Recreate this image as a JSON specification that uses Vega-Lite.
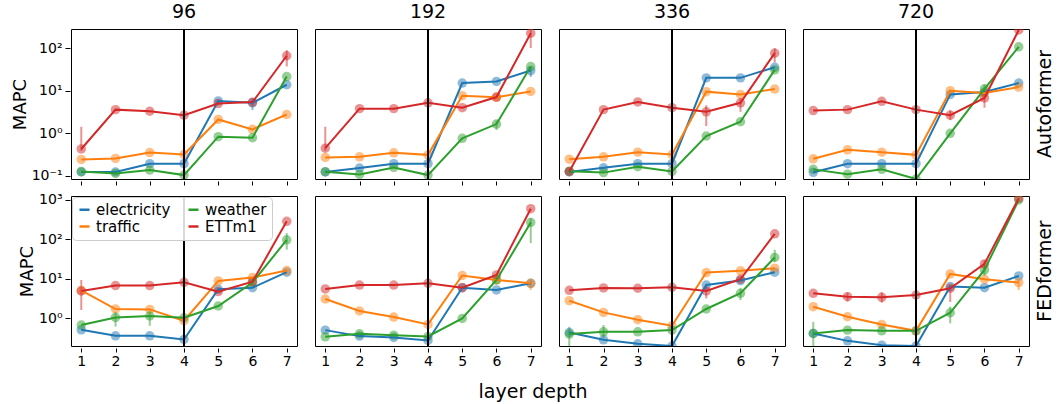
{
  "$schema": "https://vega.github.io/schema/vega-lite/v6.json",
  "padding": {"left": 11, "top": 3, "right": 2, "bottom": 4},
  "config": {
    "font": "DejaVu Sans",
    "view": {"stroke": "black", "strokeWidth": 1},
    "axis": {"grid": false, "domain": false, "tickColor": "black", "labelColor": "black", "labelFontSize": 14, "titleFontSize": 18, "titleFontWeight": "normal", "titleColor": "black", "tickSize": 5, "labelPadding": 3, "titlePadding": 2},
    "axisX": {"tickSize": 4, "labelPadding": 2},
    "header": {"labelFontSize": 19, "labelColor": "black"},
    "title": {"fontSize": 19, "fontWeight": "normal", "color": "black"}
  },
  "title": {"text": "layer depth", "orient": "bottom", "anchor": "middle", "offset": 15},
  "data": {"values": [
    {"model":"Autoformer","horizon":"96","dataset":"electricity","depth":1,"mapc":0.124},
    {"model":"Autoformer","horizon":"96","dataset":"electricity","depth":2,"mapc":0.124},
    {"model":"Autoformer","horizon":"96","dataset":"electricity","depth":3,"mapc":0.194},
    {"model":"Autoformer","horizon":"96","dataset":"electricity","depth":4,"mapc":0.194},
    {"model":"Autoformer","horizon":"96","dataset":"electricity","depth":5,"mapc":5.75},
    {"model":"Autoformer","horizon":"96","dataset":"electricity","depth":6,"mapc":5.2,"lo":3.5,"hi":6.5},
    {"model":"Autoformer","horizon":"96","dataset":"electricity","depth":7,"mapc":13.8},
    {"model":"Autoformer","horizon":"96","dataset":"traffic","depth":1,"mapc":0.244},
    {"model":"Autoformer","horizon":"96","dataset":"traffic","depth":2,"mapc":0.258},
    {"model":"Autoformer","horizon":"96","dataset":"traffic","depth":3,"mapc":0.355},
    {"model":"Autoformer","horizon":"96","dataset":"traffic","depth":4,"mapc":0.319},
    {"model":"Autoformer","horizon":"96","dataset":"traffic","depth":5,"mapc":2.12},
    {"model":"Autoformer","horizon":"96","dataset":"traffic","depth":6,"mapc":1.24},
    {"model":"Autoformer","horizon":"96","dataset":"traffic","depth":7,"mapc":2.77},
    {"model":"Autoformer","horizon":"96","dataset":"weather","depth":1,"mapc":0.128},
    {"model":"Autoformer","horizon":"96","dataset":"weather","depth":2,"mapc":0.115},
    {"model":"Autoformer","horizon":"96","dataset":"weather","depth":3,"mapc":0.138},
    {"model":"Autoformer","horizon":"96","dataset":"weather","depth":4,"mapc":0.105},
    {"model":"Autoformer","horizon":"96","dataset":"weather","depth":5,"mapc":0.835},
    {"model":"Autoformer","horizon":"96","dataset":"weather","depth":6,"mapc":0.79},
    {"model":"Autoformer","horizon":"96","dataset":"weather","depth":7,"mapc":21.5},
    {"model":"Autoformer","horizon":"96","dataset":"ETTm1","depth":1,"mapc":0.43,"lo":0.39,"hi":1.43},
    {"model":"Autoformer","horizon":"96","dataset":"ETTm1","depth":2,"mapc":3.6},
    {"model":"Autoformer","horizon":"96","dataset":"ETTm1","depth":3,"mapc":3.3},
    {"model":"Autoformer","horizon":"96","dataset":"ETTm1","depth":4,"mapc":2.67},
    {"model":"Autoformer","horizon":"96","dataset":"ETTm1","depth":5,"mapc":5.0},
    {"model":"Autoformer","horizon":"96","dataset":"ETTm1","depth":6,"mapc":5.4},
    {"model":"Autoformer","horizon":"96","dataset":"ETTm1","depth":7,"mapc":66,"lo":37,"hi":90},

    {"model":"Autoformer","horizon":"192","dataset":"electricity","depth":1,"mapc":0.124},
    {"model":"Autoformer","horizon":"192","dataset":"electricity","depth":2,"mapc":0.153},
    {"model":"Autoformer","horizon":"192","dataset":"electricity","depth":3,"mapc":0.194},
    {"model":"Autoformer","horizon":"192","dataset":"electricity","depth":4,"mapc":0.194},
    {"model":"Autoformer","horizon":"192","dataset":"electricity","depth":5,"mapc":15.1},
    {"model":"Autoformer","horizon":"192","dataset":"electricity","depth":6,"mapc":16.5},
    {"model":"Autoformer","horizon":"192","dataset":"electricity","depth":7,"mapc":29.7,"lo":21,"hi":36},
    {"model":"Autoformer","horizon":"192","dataset":"traffic","depth":1,"mapc":0.272},
    {"model":"Autoformer","horizon":"192","dataset":"traffic","depth":2,"mapc":0.282},
    {"model":"Autoformer","horizon":"192","dataset":"traffic","depth":3,"mapc":0.349},
    {"model":"Autoformer","horizon":"192","dataset":"traffic","depth":4,"mapc":0.313},
    {"model":"Autoformer","horizon":"192","dataset":"traffic","depth":5,"mapc":7.65},
    {"model":"Autoformer","horizon":"192","dataset":"traffic","depth":6,"mapc":7.0},
    {"model":"Autoformer","horizon":"192","dataset":"traffic","depth":7,"mapc":9.6},
    {"model":"Autoformer","horizon":"192","dataset":"weather","depth":1,"mapc":0.126},
    {"model":"Autoformer","horizon":"192","dataset":"weather","depth":2,"mapc":0.109},
    {"model":"Autoformer","horizon":"192","dataset":"weather","depth":3,"mapc":0.159},
    {"model":"Autoformer","horizon":"192","dataset":"weather","depth":4,"mapc":0.105},
    {"model":"Autoformer","horizon":"192","dataset":"weather","depth":5,"mapc":0.766},
    {"model":"Autoformer","horizon":"192","dataset":"weather","depth":6,"mapc":1.65,"lo":1.2,"hi":2.0},
    {"model":"Autoformer","horizon":"192","dataset":"weather","depth":7,"mapc":36.8},
    {"model":"Autoformer","horizon":"192","dataset":"ETTm1","depth":1,"mapc":0.45,"lo":0.39,"hi":1.43},
    {"model":"Autoformer","horizon":"192","dataset":"ETTm1","depth":2,"mapc":3.8},
    {"model":"Autoformer","horizon":"192","dataset":"ETTm1","depth":3,"mapc":3.8},
    {"model":"Autoformer","horizon":"192","dataset":"ETTm1","depth":4,"mapc":5.2},
    {"model":"Autoformer","horizon":"192","dataset":"ETTm1","depth":5,"mapc":4.0},
    {"model":"Autoformer","horizon":"192","dataset":"ETTm1","depth":6,"mapc":7.1},
    {"model":"Autoformer","horizon":"192","dataset":"ETTm1","depth":7,"mapc":223,"lo":100,"hi":300},

    {"model":"Autoformer","horizon":"336","dataset":"electricity","depth":1,"mapc":0.124},
    {"model":"Autoformer","horizon":"336","dataset":"electricity","depth":2,"mapc":0.156},
    {"model":"Autoformer","horizon":"336","dataset":"electricity","depth":3,"mapc":0.194},
    {"model":"Autoformer","horizon":"336","dataset":"electricity","depth":4,"mapc":0.194},
    {"model":"Autoformer","horizon":"336","dataset":"electricity","depth":5,"mapc":20},
    {"model":"Autoformer","horizon":"336","dataset":"electricity","depth":6,"mapc":20},
    {"model":"Autoformer","horizon":"336","dataset":"electricity","depth":7,"mapc":35.5},
    {"model":"Autoformer","horizon":"336","dataset":"traffic","depth":1,"mapc":0.248},
    {"model":"Autoformer","horizon":"336","dataset":"traffic","depth":2,"mapc":0.282},
    {"model":"Autoformer","horizon":"336","dataset":"traffic","depth":3,"mapc":0.361},
    {"model":"Autoformer","horizon":"336","dataset":"traffic","depth":4,"mapc":0.319},
    {"model":"Autoformer","horizon":"336","dataset":"traffic","depth":5,"mapc":9.5},
    {"model":"Autoformer","horizon":"336","dataset":"traffic","depth":6,"mapc":8.2},
    {"model":"Autoformer","horizon":"336","dataset":"traffic","depth":7,"mapc":10.9},
    {"model":"Autoformer","horizon":"336","dataset":"weather","depth":1,"mapc":0.13},
    {"model":"Autoformer","horizon":"336","dataset":"weather","depth":2,"mapc":0.12},
    {"model":"Autoformer","horizon":"336","dataset":"weather","depth":3,"mapc":0.165},
    {"model":"Autoformer","horizon":"336","dataset":"weather","depth":4,"mapc":0.128},
    {"model":"Autoformer","horizon":"336","dataset":"weather","depth":5,"mapc":0.867},
    {"model":"Autoformer","horizon":"336","dataset":"weather","depth":6,"mapc":1.87},
    {"model":"Autoformer","horizon":"336","dataset":"weather","depth":7,"mapc":30.8},
    {"model":"Autoformer","horizon":"336","dataset":"ETTm1","depth":1,"mapc":0.128},
    {"model":"Autoformer","horizon":"336","dataset":"ETTm1","depth":2,"mapc":3.6},
    {"model":"Autoformer","horizon":"336","dataset":"ETTm1","depth":3,"mapc":5.45},
    {"model":"Autoformer","horizon":"336","dataset":"ETTm1","depth":4,"mapc":4.0},
    {"model":"Autoformer","horizon":"336","dataset":"ETTm1","depth":5,"mapc":3.2,"lo":1.48,"hi":4.56},
    {"model":"Autoformer","horizon":"336","dataset":"ETTm1","depth":6,"mapc":5.2,"lo":3.2,"hi":6.5},
    {"model":"Autoformer","horizon":"336","dataset":"ETTm1","depth":7,"mapc":76,"lo":46,"hi":100},

    {"model":"Autoformer","horizon":"720","dataset":"electricity","depth":1,"mapc":0.122},
    {"model":"Autoformer","horizon":"720","dataset":"electricity","depth":2,"mapc":0.194},
    {"model":"Autoformer","horizon":"720","dataset":"electricity","depth":3,"mapc":0.194},
    {"model":"Autoformer","horizon":"720","dataset":"electricity","depth":4,"mapc":0.194},
    {"model":"Autoformer","horizon":"720","dataset":"electricity","depth":5,"mapc":8.2},
    {"model":"Autoformer","horizon":"720","dataset":"electricity","depth":6,"mapc":9.3},
    {"model":"Autoformer","horizon":"720","dataset":"electricity","depth":7,"mapc":15.1},
    {"model":"Autoformer","horizon":"720","dataset":"traffic","depth":1,"mapc":0.253},
    {"model":"Autoformer","horizon":"720","dataset":"traffic","depth":2,"mapc":0.41},
    {"model":"Autoformer","horizon":"720","dataset":"traffic","depth":3,"mapc":0.361},
    {"model":"Autoformer","horizon":"720","dataset":"traffic","depth":4,"mapc":0.313},
    {"model":"Autoformer","horizon":"720","dataset":"traffic","depth":5,"mapc":10},
    {"model":"Autoformer","horizon":"720","dataset":"traffic","depth":6,"mapc":8.8},
    {"model":"Autoformer","horizon":"720","dataset":"traffic","depth":7,"mapc":12.2},
    {"model":"Autoformer","horizon":"720","dataset":"weather","depth":1,"mapc":0.143},
    {"model":"Autoformer","horizon":"720","dataset":"weather","depth":2,"mapc":0.11},
    {"model":"Autoformer","horizon":"720","dataset":"weather","depth":3,"mapc":0.143},
    {"model":"Autoformer","horizon":"720","dataset":"weather","depth":4,"mapc":0.085},
    {"model":"Autoformer","horizon":"720","dataset":"weather","depth":5,"mapc":1.0},
    {"model":"Autoformer","horizon":"720","dataset":"weather","depth":6,"mapc":11.1,"lo":7.8,"hi":14},
    {"model":"Autoformer","horizon":"720","dataset":"weather","depth":7,"mapc":107},
    {"model":"Autoformer","horizon":"720","dataset":"ETTm1","depth":1,"mapc":3.43},
    {"model":"Autoformer","horizon":"720","dataset":"ETTm1","depth":2,"mapc":3.6},
    {"model":"Autoformer","horizon":"720","dataset":"ETTm1","depth":3,"mapc":5.65},
    {"model":"Autoformer","horizon":"720","dataset":"ETTm1","depth":4,"mapc":3.6},
    {"model":"Autoformer","horizon":"720","dataset":"ETTm1","depth":5,"mapc":2.67,"lo":2.04,"hi":3.5},
    {"model":"Autoformer","horizon":"720","dataset":"ETTm1","depth":6,"mapc":6.75,"lo":4.0,"hi":8.5},
    {"model":"Autoformer","horizon":"720","dataset":"ETTm1","depth":7,"mapc":265},

    {"model":"FEDformer","horizon":"96","dataset":"electricity","depth":1,"mapc":0.515},
    {"model":"FEDformer","horizon":"96","dataset":"electricity","depth":2,"mapc":0.363},
    {"model":"FEDformer","horizon":"96","dataset":"electricity","depth":3,"mapc":0.363},
    {"model":"FEDformer","horizon":"96","dataset":"electricity","depth":4,"mapc":0.292},
    {"model":"FEDformer","horizon":"96","dataset":"electricity","depth":5,"mapc":5.46},
    {"model":"FEDformer","horizon":"96","dataset":"electricity","depth":6,"mapc":6.0},
    {"model":"FEDformer","horizon":"96","dataset":"electricity","depth":7,"mapc":14.8},
    {"model":"FEDformer","horizon":"96","dataset":"traffic","depth":1,"mapc":5.1},
    {"model":"FEDformer","horizon":"96","dataset":"traffic","depth":2,"mapc":1.73},
    {"model":"FEDformer","horizon":"96","dataset":"traffic","depth":3,"mapc":1.69},
    {"model":"FEDformer","horizon":"96","dataset":"traffic","depth":4,"mapc":0.873},
    {"model":"FEDformer","horizon":"96","dataset":"traffic","depth":5,"mapc":8.9},
    {"model":"FEDformer","horizon":"96","dataset":"traffic","depth":6,"mapc":10.8},
    {"model":"FEDformer","horizon":"96","dataset":"traffic","depth":7,"mapc":16.3},
    {"model":"FEDformer","horizon":"96","dataset":"weather","depth":1,"mapc":0.678},
    {"model":"FEDformer","horizon":"96","dataset":"weather","depth":2,"mapc":1.06,"lo":0.62,"hi":1.48},
    {"model":"FEDformer","horizon":"96","dataset":"weather","depth":3,"mapc":1.15,"lo":0.65,"hi":1.5},
    {"model":"FEDformer","horizon":"96","dataset":"weather","depth":4,"mapc":1.04,"lo":0.7,"hi":1.4},
    {"model":"FEDformer","horizon":"96","dataset":"weather","depth":5,"mapc":2.06},
    {"model":"FEDformer","horizon":"96","dataset":"weather","depth":6,"mapc":8.07},
    {"model":"FEDformer","horizon":"96","dataset":"weather","depth":7,"mapc":98,"lo":55,"hi":145},
    {"model":"FEDformer","horizon":"96","dataset":"ETTm1","depth":1,"mapc":4.95,"lo":1.63,"hi":9.4},
    {"model":"FEDformer","horizon":"96","dataset":"ETTm1","depth":2,"mapc":6.8},
    {"model":"FEDformer","horizon":"96","dataset":"ETTm1","depth":3,"mapc":6.8},
    {"model":"FEDformer","horizon":"96","dataset":"ETTm1","depth":4,"mapc":8.2},
    {"model":"FEDformer","horizon":"96","dataset":"ETTm1","depth":5,"mapc":4.77},
    {"model":"FEDformer","horizon":"96","dataset":"ETTm1","depth":6,"mapc":8.55},
    {"model":"FEDformer","horizon":"96","dataset":"ETTm1","depth":7,"mapc":287},

    {"model":"FEDformer","horizon":"192","dataset":"electricity","depth":1,"mapc":0.505},
    {"model":"FEDformer","horizon":"192","dataset":"electricity","depth":2,"mapc":0.356},
    {"model":"FEDformer","horizon":"192","dataset":"electricity","depth":3,"mapc":0.329},
    {"model":"FEDformer","horizon":"192","dataset":"electricity","depth":4,"mapc":0.276},
    {"model":"FEDformer","horizon":"192","dataset":"electricity","depth":5,"mapc":6.0},
    {"model":"FEDformer","horizon":"192","dataset":"electricity","depth":6,"mapc":5.25},
    {"model":"FEDformer","horizon":"192","dataset":"electricity","depth":7,"mapc":7.76},
    {"model":"FEDformer","horizon":"192","dataset":"traffic","depth":1,"mapc":3.1},
    {"model":"FEDformer","horizon":"192","dataset":"traffic","depth":2,"mapc":1.54},
    {"model":"FEDformer","horizon":"192","dataset":"traffic","depth":3,"mapc":1.08},
    {"model":"FEDformer","horizon":"192","dataset":"traffic","depth":4,"mapc":0.703},
    {"model":"FEDformer","horizon":"192","dataset":"traffic","depth":5,"mapc":12.2},
    {"model":"FEDformer","horizon":"192","dataset":"traffic","depth":6,"mapc":9.4},
    {"model":"FEDformer","horizon":"192","dataset":"traffic","depth":7,"mapc":7.76,"lo":5.2,"hi":9.4},
    {"model":"FEDformer","horizon":"192","dataset":"weather","depth":1,"mapc":0.342},
    {"model":"FEDformer","horizon":"192","dataset":"weather","depth":2,"mapc":0.407},
    {"model":"FEDformer","horizon":"192","dataset":"weather","depth":3,"mapc":0.377},
    {"model":"FEDformer","horizon":"192","dataset":"weather","depth":4,"mapc":0.348},
    {"model":"FEDformer","horizon":"192","dataset":"weather","depth":5,"mapc":1.0},
    {"model":"FEDformer","horizon":"192","dataset":"weather","depth":6,"mapc":9.4},
    {"model":"FEDformer","horizon":"192","dataset":"weather","depth":7,"mapc":270,"lo":81,"hi":347},
    {"model":"FEDformer","horizon":"192","dataset":"ETTm1","depth":1,"mapc":5.57},
    {"model":"FEDformer","horizon":"192","dataset":"ETTm1","depth":2,"mapc":7.0},
    {"model":"FEDformer","horizon":"192","dataset":"ETTm1","depth":3,"mapc":7.0},
    {"model":"FEDformer","horizon":"192","dataset":"ETTm1","depth":4,"mapc":7.76},
    {"model":"FEDformer","horizon":"192","dataset":"ETTm1","depth":5,"mapc":6.0},
    {"model":"FEDformer","horizon":"192","dataset":"ETTm1","depth":6,"mapc":12.6},
    {"model":"FEDformer","horizon":"192","dataset":"ETTm1","depth":7,"mapc":600},

    {"model":"FEDformer","horizon":"336","dataset":"electricity","depth":1,"mapc":0.44},
    {"model":"FEDformer","horizon":"336","dataset":"electricity","depth":2,"mapc":0.287},
    {"model":"FEDformer","horizon":"336","dataset":"electricity","depth":3,"mapc":0.227},
    {"model":"FEDformer","horizon":"336","dataset":"electricity","depth":4,"mapc":0.2},
    {"model":"FEDformer","horizon":"336","dataset":"electricity","depth":5,"mapc":7.0},
    {"model":"FEDformer","horizon":"336","dataset":"electricity","depth":6,"mapc":9.1},
    {"model":"FEDformer","horizon":"336","dataset":"electricity","depth":7,"mapc":14.8},
    {"model":"FEDformer","horizon":"336","dataset":"traffic","depth":1,"mapc":2.81},
    {"model":"FEDformer","horizon":"336","dataset":"traffic","depth":2,"mapc":1.42},
    {"model":"FEDformer","horizon":"336","dataset":"traffic","depth":3,"mapc":0.925},
    {"model":"FEDformer","horizon":"336","dataset":"traffic","depth":4,"mapc":0.651},
    {"model":"FEDformer","horizon":"336","dataset":"traffic","depth":5,"mapc":14.5},
    {"model":"FEDformer","horizon":"336","dataset":"traffic","depth":6,"mapc":16},
    {"model":"FEDformer","horizon":"336","dataset":"traffic","depth":7,"mapc":18.7},
    {"model":"FEDformer","horizon":"336","dataset":"weather","depth":1,"mapc":0.4,"lo":0.2,"hi":0.61},
    {"model":"FEDformer","horizon":"336","dataset":"weather","depth":2,"mapc":0.458,"lo":0.31,"hi":0.68},
    {"model":"FEDformer","horizon":"336","dataset":"weather","depth":3,"mapc":0.458},
    {"model":"FEDformer","horizon":"336","dataset":"weather","depth":4,"mapc":0.505},
    {"model":"FEDformer","horizon":"336","dataset":"weather","depth":5,"mapc":1.73},
    {"model":"FEDformer","horizon":"336","dataset":"weather","depth":6,"mapc":4.33,"lo":2.9,"hi":5.8},
    {"model":"FEDformer","horizon":"336","dataset":"weather","depth":7,"mapc":34.9,"lo":27.5,"hi":55},
    {"model":"FEDformer","horizon":"336","dataset":"ETTm1","depth":1,"mapc":5.15},
    {"model":"FEDformer","horizon":"336","dataset":"ETTm1","depth":2,"mapc":5.9},
    {"model":"FEDformer","horizon":"336","dataset":"ETTm1","depth":3,"mapc":5.8},
    {"model":"FEDformer","horizon":"336","dataset":"ETTm1","depth":4,"mapc":6.14},
    {"model":"FEDformer","horizon":"336","dataset":"ETTm1","depth":5,"mapc":4.95,"lo":3.2,"hi":6.7},
    {"model":"FEDformer","horizon":"336","dataset":"ETTm1","depth":6,"mapc":9.8},
    {"model":"FEDformer","horizon":"336","dataset":"ETTm1","depth":7,"mapc":139},

    {"model":"FEDformer","horizon":"720","dataset":"electricity","depth":1,"mapc":0.416},
    {"model":"FEDformer","horizon":"720","dataset":"electricity","depth":2,"mapc":0.27},
    {"model":"FEDformer","horizon":"720","dataset":"electricity","depth":3,"mapc":0.21},
    {"model":"FEDformer","horizon":"720","dataset":"electricity","depth":4,"mapc":0.2},
    {"model":"FEDformer","horizon":"720","dataset":"electricity","depth":5,"mapc":6.4},
    {"model":"FEDformer","horizon":"720","dataset":"electricity","depth":6,"mapc":6.0},
    {"model":"FEDformer","horizon":"720","dataset":"electricity","depth":7,"mapc":11.9},
    {"model":"FEDformer","horizon":"720","dataset":"traffic","depth":1,"mapc":1.98},
    {"model":"FEDformer","horizon":"720","dataset":"traffic","depth":2,"mapc":1.1},
    {"model":"FEDformer","horizon":"720","dataset":"traffic","depth":3,"mapc":0.703},
    {"model":"FEDformer","horizon":"720","dataset":"traffic","depth":4,"mapc":0.485},
    {"model":"FEDformer","horizon":"720","dataset":"traffic","depth":5,"mapc":13.4},
    {"model":"FEDformer","horizon":"720","dataset":"traffic","depth":6,"mapc":9.8},
    {"model":"FEDformer","horizon":"720","dataset":"traffic","depth":7,"mapc":8.07,"lo":5.2,"hi":9.4},
    {"model":"FEDformer","horizon":"720","dataset":"weather","depth":1,"mapc":0.416,"lo":0.2,"hi":0.82},
    {"model":"FEDformer","horizon":"720","dataset":"weather","depth":2,"mapc":0.505},
    {"model":"FEDformer","horizon":"720","dataset":"weather","depth":3,"mapc":0.485},
    {"model":"FEDformer","horizon":"720","dataset":"weather","depth":4,"mapc":0.485},
    {"model":"FEDformer","horizon":"720","dataset":"weather","depth":5,"mapc":1.39,"lo":0.75,"hi":2.0},
    {"model":"FEDformer","horizon":"720","dataset":"weather","depth":6,"mapc":16.9,"lo":12,"hi":22},
    {"model":"FEDformer","horizon":"720","dataset":"weather","depth":7,"mapc":1000},
    {"model":"FEDformer","horizon":"720","dataset":"ETTm1","depth":1,"mapc":4.33},
    {"model":"FEDformer","horizon":"720","dataset":"ETTm1","depth":2,"mapc":3.56,"lo":2.7,"hi":4.6},
    {"model":"FEDformer","horizon":"720","dataset":"ETTm1","depth":3,"mapc":3.42,"lo":2.5,"hi":4.6},
    {"model":"FEDformer","horizon":"720","dataset":"ETTm1","depth":4,"mapc":3.92},
    {"model":"FEDformer","horizon":"720","dataset":"ETTm1","depth":5,"mapc":5.8,"lo":2.6,"hi":6.6},
    {"model":"FEDformer","horizon":"720","dataset":"ETTm1","depth":6,"mapc":24,"lo":17,"hi":30},
    {"model":"FEDformer","horizon":"720","dataset":"ETTm1","depth":7,"mapc":1100}
  ]},
  "spacing": 6,
  "vconcat": [
    {
      "transform": [{"filter": "datum.model == 'Autoformer'"}],
      "facet": {
        "column": {"field": "horizon", "type": "ordinal", "sort": ["96", "192", "336", "720"], "header": {"title": null, "labelPadding": 5}},
        "row": {"field": "model", "type": "nominal", "header": {"title": null, "labelOrient": "right", "labelAngle": -90, "labelPadding": -4}}
      },
      "spacing": {"column": 16, "row": 0},
      "spec": {
        "width": 226,
        "height": 150,
        "encoding": {
          "x": {"field": "depth", "type": "quantitative", "scale": {"domain": [0.7, 7.3], "nice": false, "zero": false}, "axis": {"values": [1, 2, 3, 4, 5, 6, 7], "labels": false, "title": null}},
          "color": {"field": "dataset", "type": "nominal", "scale": {"domain": ["electricity", "traffic", "weather", "ETTm1"], "range": ["#1f77b4", "#ff7f0e", "#2ca02c", "#d62728"]},
            "legend": {"orient": "none", "legendX": 1, "legendY": 168, "columns": 2, "title": null, "symbolType": "stroke", "symbolStrokeWidth": 2.5, "symbolSize": 100, "symbolOpacity": 1, "labelFontSize": 15, "labelColor": "black", "fillColor": "rgba(255,255,255,0.85)", "strokeColor": "#cccccc", "cornerRadius": 4, "padding": 5, "rowPadding": 1, "columnPadding": 12, "labelLimit": 200,
              "encode": {"symbols": {"update": {"opacity": {"value": 1}, "strokeOpacity": {"value": 1}}}}}}
        },
        "layer": [
          {"mark": {"type": "rule", "strokeWidth": 2, "opacity": 0.5, "clip": true},
           "encoding": {"y": {"field": "lo", "type": "quantitative", "title": "MAPC", "scale": {"type": "log", "domain": [0.085, 280], "nice": false}}, "y2": {"field": "hi"}}},
          {"mark": {"type": "circle", "size": 90, "opacity": 0.5, "clip": true},
           "encoding": {"y": {"field": "mapc", "type": "quantitative", "title": "MAPC",
             "axis": {"values": [0.1, 1, 10, 100], "labelExpr": "datum.value < 0.5 ? '10⁻¹' : datum.value < 5 ? '10⁰' : datum.value < 50 ? '10¹' : datum.value < 500 ? '10²' : '10³'"}}}},
          {"mark": {"type": "line", "strokeWidth": 2, "clip": true},
           "encoding": {"y": {"field": "mapc", "type": "quantitative", "title": "MAPC"}}},
          {"transform": [{"filter": "datum.depth == 4 && datum.dataset == 'electricity'"}],
           "mark": {"type": "rule", "color": "black", "strokeWidth": 2},
           "encoding": {"color": {"value": "black"}}}
        ]
      }
    },
    {
      "transform": [{"filter": "datum.model == 'FEDformer'"}],
      "facet": {
        "column": {"field": "horizon", "type": "ordinal", "sort": ["96", "192", "336", "720"], "header": {"title": null, "labels": false, "labelPadding": 0}},
        "row": {"field": "model", "type": "nominal", "header": {"title": null, "labelOrient": "right", "labelAngle": -90, "labelPadding": -4}}
      },
      "spacing": {"column": 16, "row": 0},
      "spec": {
        "width": 226,
        "height": 150,
        "encoding": {
          "x": {"field": "depth", "type": "quantitative", "scale": {"domain": [0.7, 7.3], "nice": false, "zero": false}, "axis": {"values": [1, 2, 3, 4, 5, 6, 7], "format": "d", "title": null}},
          "color": {"field": "dataset", "type": "nominal", "scale": {"domain": ["electricity", "traffic", "weather", "ETTm1"], "range": ["#1f77b4", "#ff7f0e", "#2ca02c", "#d62728"]}}
        },
        "layer": [
          {"mark": {"type": "rule", "strokeWidth": 2, "opacity": 0.5, "clip": true},
           "encoding": {"y": {"field": "lo", "type": "quantitative", "title": "MAPC", "scale": {"type": "log", "domain": [0.2, 1260], "nice": false}}, "y2": {"field": "hi"}}},
          {"mark": {"type": "circle", "size": 90, "opacity": 0.5, "clip": true},
           "encoding": {"y": {"field": "mapc", "type": "quantitative", "title": "MAPC",
             "axis": {"values": [1, 10, 100, 1000], "labelExpr": "datum.value < 0.5 ? '10⁻¹' : datum.value < 5 ? '10⁰' : datum.value < 50 ? '10¹' : datum.value < 500 ? '10²' : '10³'"}}}},
          {"mark": {"type": "line", "strokeWidth": 2, "clip": true},
           "encoding": {"y": {"field": "mapc", "type": "quantitative", "title": "MAPC"}}},
          {"transform": [{"filter": "datum.depth == 4 && datum.dataset == 'electricity'"}],
           "mark": {"type": "rule", "color": "black", "strokeWidth": 2},
           "encoding": {"color": {"value": "black"}}}
        ]
      }
    }
  ]
}
